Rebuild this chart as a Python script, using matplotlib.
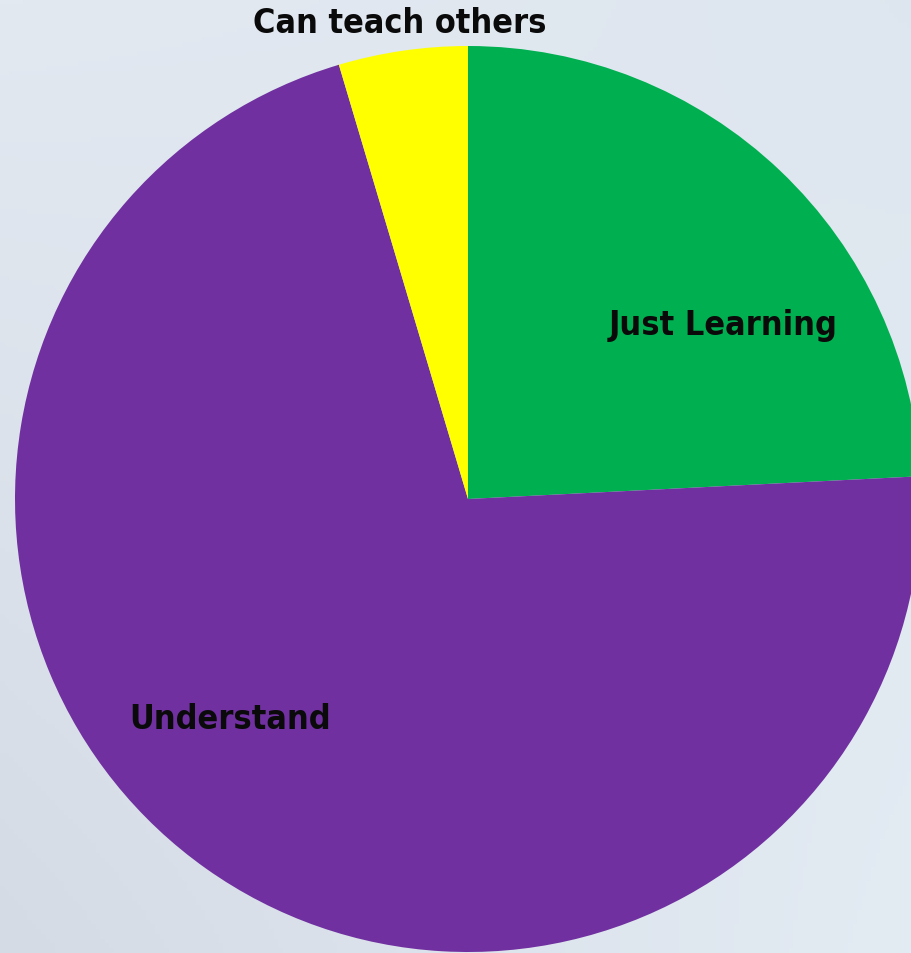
import matplotlib
matplotlib.use('Agg')
import matplotlib.pyplot as plt
import numpy as np

# Share of people at each level (percent)
levels = ['Just Learning', 'Understand', 'Can teach others']
shares = [24.2, 71.2, 4.6]
slice_colors = ['#00B050', '#7030A0', '#FFFF00']

W, H = 912, 954
fig = plt.figure(figsize=(W / 100, H / 100), dpi=100)
ax = fig.add_axes([0, 0, 1, 1])

# soft blue-grey backdrop, shaded from the corners
corners = np.array([
    [[0.835, 0.859, 0.898], [0.890, 0.922, 0.953]],   # bottom-left, bottom-right
    [[0.890, 0.914, 0.945], [0.870, 0.902, 0.937]],   # top-left, top-right
])
gy, gx = np.mgrid[0:1:200j, 0:1:200j]
bg = (corners[0, 0] * ((1 - gx) * (1 - gy))[..., None]
      + corners[0, 1] * (gx * (1 - gy))[..., None]
      + corners[1, 0] * ((1 - gx) * gy)[..., None]
      + corners[1, 1] * (gx * gy)[..., None])
ax.imshow(bg, extent=[0, W, 0, H], origin='lower', aspect='auto', zorder=0)

wedges, _ = ax.pie(
    shares,
    colors=slice_colors,
    startangle=90,
    counterclock=False,
    center=(468, 454),
    radius=453,
    wedgeprops={'linewidth': 0, 'zorder': 1},
)

label_style = dict(fontsize=24.5, fontweight='bold', color='#0a0a0a',
                   family='DejaVu Sans', fontstretch='condensed',
                   ha='center', va='baseline', zorder=3)
label_pos = {'Just Learning': (723, 954 - 335),
             'Understand': (230, 954 - 729),
             'Can teach others': (400, 954 - 33)}
for name in levels:
    x, y = label_pos[name]
    ax.text(x, y, name, **label_style)

ax.set_xlim(0, W)
ax.set_ylim(0, H)
ax.set_aspect('auto')
ax.axis('off')

plt.savefig('out.png', dpi=100)
